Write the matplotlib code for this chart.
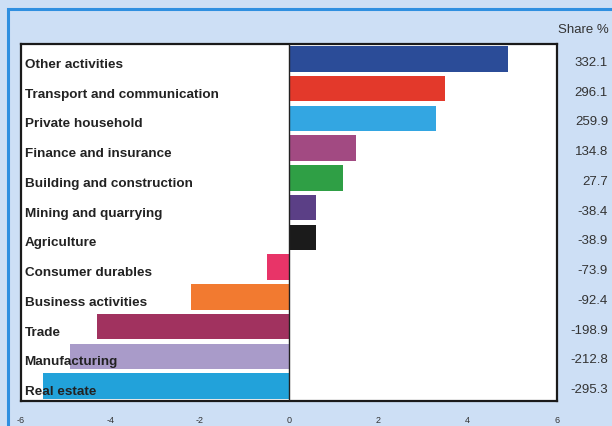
import numpy as np
import matplotlib.pyplot as plt
from matplotlib.patches import Rectangle

plt.rcParams['font.family'] = ['Liberation Sans', 'DejaVu Sans']
plt.rcParams['axes.unicode_minus'] = False

sectors = ["Other activities", "Transport and communication", "Private household",
           "Finance and insurance", "Building and construction", "Mining and quarrying",
           "Agriculture", "Consumer durables", "Business activities", "Trade",
           "Manufacturing", "Real estate"]
values = [4.9, 3.5, 3.3, 1.5, 1.2, 0.6, 0.6, -0.5, -2.2, -4.3, -4.9, -5.5]
share = ["332.1", "296.1", "259.9", "134.8", "27.7", "-38.4", "-38.9", "-73.9",
         "-92.4", "-198.9", "-212.8", "-295.3"]
colors = ["#2b4c98", "#e3392b", "#33a6e2", "#a24a82", "#2f9f45", "#5b3f86",
          "#1b1b1b", "#e83468", "#f27a30", "#a1325f", "#a99bc9", "#22a2da"]

bg = "#cddff5"
fig = plt.figure(figsize=(6.12, 4.27), dpi=100, facecolor=bg)

# blue outer frame
fig.patches.append(Rectangle((8/612, -0.1), 1.2, 1 - 10/427 + 0.1, transform=fig.transFigure,
                             fill=False, edgecolor="#2f8fe0", linewidth=2.2))

ax = fig.add_axes([21/612, 1 - 402/427, 536/612, 357/427])
y = np.arange(len(sectors))
ax.barh(y, values, height=0.86, color=colors, zorder=2)
ax.axvline(0, color="#222222", linewidth=1, zorder=3)

ax.set_xlim(-6, 6)
ax.set_ylim(len(sectors) - 0.5, -0.5)
ax.set_yticks([])
ax.set_xticks([-6, -4, -2, 0, 2, 4, 6])
ax.tick_params(axis="x", length=0, labelsize=6.5, pad=10, colors="#333333")
for s in ax.spines.values():
    s.set_linewidth(1.6)
    s.set_color("#1a1a1a")

# sector names inside the plot, left side
for i, name in enumerate(sectors):
    ax.text(-5.92, i + 0.17, name, va="center", ha="left", fontsize=9.7,
            fontweight="bold", color="#222222", zorder=4)

# share column on the right
tr = ax.get_yaxis_transform()
for i, s in enumerate(share):
    ax.text(1 + (608 - 557) / 536, i + 0.1, s, transform=tr, va="center", ha="right",
            fontsize=9.5, color="#333333", clip_on=False)
fig.text(609/612, 1 - 30/427, "Share %", ha="right", va="center", fontsize=9.5,
         color="#333333")

fig.savefig("out.png", dpi=100, facecolor=bg)
